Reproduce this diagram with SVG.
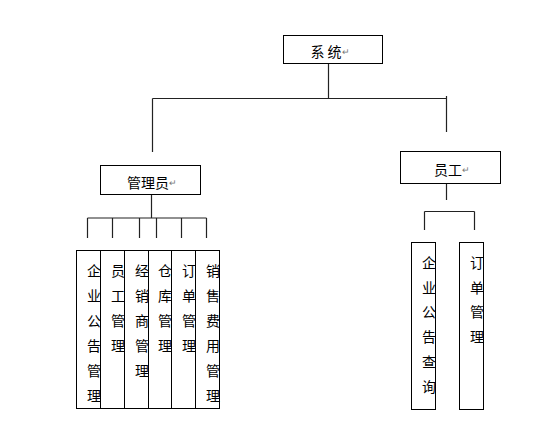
<svg xmlns="http://www.w3.org/2000/svg" width="552" height="438" viewBox="0 0 552 438">
<style>
.box{fill:#fff;stroke:#000;stroke-width:1}
.ln{stroke:#222;stroke-width:1.2;fill:none}
.t{font-family:"Noto Sans CJK SC","Noto Sans",sans-serif;font-size:14px;fill:#000;text-anchor:middle;dominant-baseline:central}
.p{font-size:9px;fill:#777}
</style>
<rect width="552" height="438" fill="#fff"/>
<g id="connectors">
<path class="ln" d="M328.5 63V98.5M152.5 98.5H446.5M152.5 98.5V152M446.5 96V132"/>
<path class="ln" d="M151.5 194V218M87.5 218H206.5M87.5 218V238M112.5 218V238M139.5 218V238M156.5 218V238M181.5 218V238M206.5 218V238"/>
<path class="ln" d="M446.5 183V200M424.5 211.5H474.5M424.5 211.5V230M474.5 211.5V230"/>
</g>
<g id="system"><rect class="box" x="283.5" y="35.5" width="99" height="28"/><text class="t" x="330" y="51">系 统<tspan class="p">↵</tspan></text></g>
<g id="admin"><rect class="box" x="100.5" y="165.5" width="100" height="29"/><text class="t" x="152" y="182">管理员<tspan class="p">↵</tspan></text></g>
<g id="staff"><rect class="box" x="400.5" y="151.5" width="100" height="32"/><text class="t" x="452" y="169">员工<tspan class="p">↵</tspan></text></g>
<g id="a1"><rect class="box" x="76.5" y="250.5" width="24" height="158"/><text class="t" x="94"><tspan x="94" y="270">企</tspan><tspan x="94" y="295">业</tspan><tspan x="94" y="320">公</tspan><tspan x="94" y="345">告</tspan><tspan x="94" y="370">管</tspan><tspan x="94" y="395">理</tspan></text></g>
<g id="a2"><rect class="box" x="100.5" y="250.5" width="24" height="158"/><text class="t"><tspan x="118" y="270">员</tspan><tspan x="118" y="295">工</tspan><tspan x="118" y="320">管</tspan><tspan x="118" y="345">理</tspan></text></g>
<g id="a3"><rect class="box" x="124.5" y="250.5" width="24" height="158"/><text class="t"><tspan x="142" y="270">经</tspan><tspan x="142" y="295">销</tspan><tspan x="142" y="320">商</tspan><tspan x="142" y="345">管</tspan><tspan x="142" y="370">理</tspan></text></g>
<g id="a4"><rect class="box" x="148.5" y="250.5" width="23" height="158"/><text class="t"><tspan x="165" y="270">仓</tspan><tspan x="165" y="295">库</tspan><tspan x="165" y="320">管</tspan><tspan x="165" y="345">理</tspan></text></g>
<g id="a5"><rect class="box" x="171.5" y="250.5" width="24" height="158"/><text class="t"><tspan x="189" y="270">订</tspan><tspan x="189" y="295">单</tspan><tspan x="189" y="320">管</tspan><tspan x="189" y="345">理</tspan></text></g>
<g id="a6"><rect class="box" x="195.5" y="250.5" width="24" height="158"/><text class="t"><tspan x="213" y="270">销</tspan><tspan x="213" y="295">售</tspan><tspan x="213" y="320">费</tspan><tspan x="213" y="345">用</tspan><tspan x="213" y="370">管</tspan><tspan x="213" y="395">理</tspan></text></g>
<g id="s1"><rect class="box" x="411.5" y="242.5" width="24" height="167"/><text class="t"><tspan x="429" y="262">企</tspan><tspan x="429" y="287">业</tspan><tspan x="429" y="311">公</tspan><tspan x="429" y="336">告</tspan><tspan x="429" y="361">查</tspan><tspan x="429" y="386">询</tspan></text></g>
<g id="s2"><rect class="box" x="459.5" y="242.5" width="24" height="167"/><text class="t"><tspan x="477" y="262">订</tspan><tspan x="477" y="287">单</tspan><tspan x="477" y="311">管</tspan><tspan x="477" y="336">理</tspan></text></g>
</svg>
